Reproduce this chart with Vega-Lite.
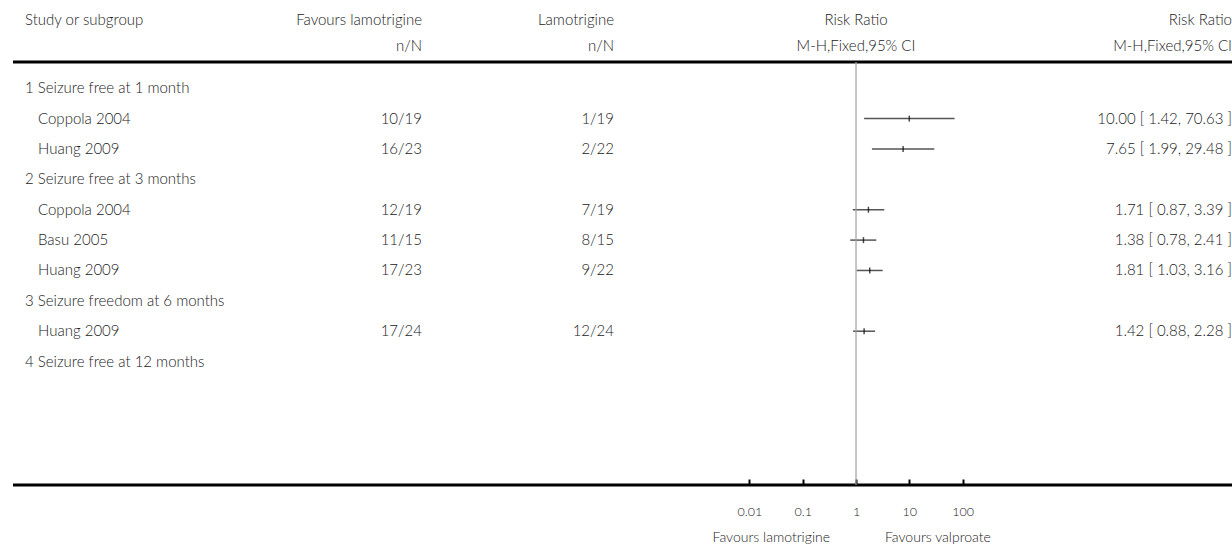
{
  "$schema": "https://vega.github.io/schema/vega-lite/v6.json",
  "padding": {"left": 11, "right": 0, "top": 0, "bottom": 0},
  "spacing": 0,
  "bounds": "flush",
  "config": {
    "view": {"stroke": null},
    "text": {"font": "Lato", "fontSize": 15, "fontWeight": 300, "color": "#222", "baseline": "middle"}
  },
  "datasets": {
    "rows": [
      {"row": 0, "kind": "group", "label": "1 Seizure free at 1 month"},
      {"row": 1, "kind": "study", "label": "Coppola 2004", "exp": "10/19", "ctl": "1/19", "rr": 10.0, "lo": 1.42, "hi": 70.63, "ci": "10.00 [ 1.42, 70.63 ]"},
      {"row": 2, "kind": "study", "label": "Huang 2009", "exp": "16/23", "ctl": "2/22", "rr": 7.65, "lo": 1.99, "hi": 29.48, "ci": "7.65 [ 1.99, 29.48 ]"},
      {"row": 3, "kind": "group", "label": "2 Seizure free at 3 months"},
      {"row": 4, "kind": "study", "label": "Coppola 2004", "exp": "12/19", "ctl": "7/19", "rr": 1.71, "lo": 0.87, "hi": 3.39, "ci": "1.71 [ 0.87, 3.39 ]"},
      {"row": 5, "kind": "study", "label": "Basu 2005", "exp": "11/15", "ctl": "8/15", "rr": 1.38, "lo": 0.78, "hi": 2.41, "ci": "1.38 [ 0.78, 2.41 ]"},
      {"row": 6, "kind": "study", "label": "Huang 2009", "exp": "17/23", "ctl": "9/22", "rr": 1.81, "lo": 1.03, "hi": 3.16, "ci": "1.81 [ 1.03, 3.16 ]"},
      {"row": 7, "kind": "group", "label": "3 Seizure freedom at 6 months"},
      {"row": 8, "kind": "study", "label": "Huang 2009", "exp": "17/24", "ctl": "12/24", "rr": 1.42, "lo": 0.88, "hi": 2.28, "ci": "1.42 [ 0.88, 2.28 ]"},
      {"row": 9, "kind": "group", "label": "4 Seizure free at 12 months"}
    ]
  },
  "hconcat": [
    {
      "width": 289, "height": 485,
      "layer": [
        {"data": {"values": [{}]}, "mark": {"type": "rule", "color": "#000", "strokeWidth": 3},
         "encoding": {"y": {"datum": -0.864, "type": "quantitative", "scale": {"domain": [-2.906, 13.064], "reverse": true, "nice": false, "zero": false}, "axis": null}}},
        {"data": {"values": [{}]}, "mark": {"type": "rule", "color": "#000", "strokeWidth": 3},
         "encoding": {"y": {"datum": 13.064, "type": "quantitative", "axis": null}}},
        {"data": {"values": [{}]}, "mark": {"type": "text", "align": "left", "dx": 12},
         "encoding": {"x": {"value": 0}, "y": {"datum": -2.247, "type": "quantitative", "axis": null}, "text": {"value": "Study or subgroup"}}},
        {"data": {"name": "rows"}, "transform": [{"filter": "datum.kind === 'group'"}],
         "mark": {"type": "text", "align": "left", "dx": 12},
         "encoding": {"x": {"value": 0}, "y": {"field": "row", "type": "quantitative", "axis": null}, "text": {"field": "label"}}},
        {"data": {"name": "rows"}, "transform": [{"filter": "datum.kind === 'study'"}],
         "mark": {"type": "text", "align": "left", "dx": 25},
         "encoding": {"x": {"value": 0}, "y": {"field": "row", "type": "quantitative", "axis": null}, "text": {"field": "label"}}}
      ]
    },
    {
      "width": 120, "height": 485,
      "layer": [
        {"data": {"values": [{}]}, "mark": {"type": "rule", "color": "#000", "strokeWidth": 3},
         "encoding": {"y": {"datum": -0.864, "type": "quantitative", "scale": {"domain": [-2.906, 13.064], "reverse": true, "nice": false, "zero": false}, "axis": null}}},
        {"data": {"values": [{}]}, "mark": {"type": "rule", "color": "#000", "strokeWidth": 3},
         "encoding": {"y": {"datum": 13.064, "type": "quantitative", "axis": null}}},
        {"data": {"values": [{}]}, "mark": {"type": "text", "align": "right"},
         "encoding": {"x": {"value": "width"}, "y": {"datum": -2.247, "type": "quantitative", "axis": null}, "text": {"value": "Favours lamotrigine"}}},
        {"data": {"values": [{}]}, "mark": {"type": "text", "align": "right"},
         "encoding": {"x": {"value": "width"}, "y": {"datum": -1.391, "type": "quantitative", "axis": null}, "text": {"value": "n/N"}}},
        {"data": {"name": "rows"}, "transform": [{"filter": "datum.kind === 'study'"}],
         "mark": {"type": "text", "align": "right"},
         "encoding": {"x": {"value": "width"}, "y": {"field": "row", "type": "quantitative", "axis": null}, "text": {"field": "exp"}}}
      ]
    },
    {
      "width": 192, "height": 485,
      "layer": [
        {"data": {"values": [{}]}, "mark": {"type": "rule", "color": "#000", "strokeWidth": 3},
         "encoding": {"y": {"datum": -0.864, "type": "quantitative", "scale": {"domain": [-2.906, 13.064], "reverse": true, "nice": false, "zero": false}, "axis": null}}},
        {"data": {"values": [{}]}, "mark": {"type": "rule", "color": "#000", "strokeWidth": 3},
         "encoding": {"y": {"datum": 13.064, "type": "quantitative", "axis": null}}},
        {"data": {"values": [{}]}, "mark": {"type": "text", "align": "right"},
         "encoding": {"x": {"value": "width"}, "y": {"datum": -2.247, "type": "quantitative", "axis": null}, "text": {"value": "Lamotrigine"}}},
        {"data": {"values": [{}]}, "mark": {"type": "text", "align": "right"},
         "encoding": {"x": {"value": "width"}, "y": {"datum": -1.391, "type": "quantitative", "axis": null}, "text": {"value": "n/N"}}},
        {"data": {"name": "rows"}, "transform": [{"filter": "datum.kind === 'study'"}],
         "mark": {"type": "text", "align": "right"},
         "encoding": {"x": {"value": "width"}, "y": {"field": "row", "type": "quantitative", "axis": null}, "text": {"field": "ctl"}}}
      ]
    },
    {
      "width": 484, "height": 485,
      "layer": [
        {"data": {"name": "rows"}, "transform": [{"filter": "datum.kind === 'study'"}],
         "mark": {"type": "rule", "color": "#555", "strokeWidth": 1.5},
         "encoding": {
           "x": {"field": "lo", "type": "quantitative",
                 "scale": {"type": "log", "domain": [0.0000288, 34700], "nice": false},
                 "axis": {"values": [0.01, 0.1, 1, 10, 100], "format": "~g", "grid": false, "domain": false,
                          "ticks": true, "tickColor": "#000", "tickWidth": 2, "tickSize": -6,
                          "labelPadding": 26, "labelFont": "Lato", "labelFontSize": 12.5, "labelFontWeight": 300, "labelColor": "#222", "title": null}},
           "x2": {"field": "hi"},
           "y": {"field": "row", "type": "quantitative", "scale": {"domain": [-2.906, 13.064], "reverse": true, "nice": false, "zero": false}, "axis": null}}},
        {"data": {"values": [{}]}, "mark": {"type": "rule", "color": "#000", "strokeWidth": 3},
         "encoding": {"y": {"datum": -0.864, "type": "quantitative", "axis": null}}},
        {"data": {"values": [{}]}, "mark": {"type": "rule", "color": "#000", "strokeWidth": 3},
         "encoding": {"y": {"datum": 13.064, "type": "quantitative", "axis": null}}},
        {"data": {"values": [{}]}, "mark": {"type": "rule", "color": "#a0a0a0", "strokeWidth": 1.2},
         "encoding": {"x": {"datum": 1, "type": "quantitative"}, "y": {"datum": -0.864, "type": "quantitative", "axis": null}, "y2": {"datum": 13.064}}},
        {"data": {"name": "rows"}, "transform": [{"filter": "datum.kind === 'study'"}],
         "mark": {"type": "tick", "color": "#000", "orient": "vertical", "thickness": 1.5, "size": 6},
         "encoding": {"x": {"field": "rr", "type": "quantitative"}, "y": {"field": "row", "type": "quantitative", "axis": null}}},
        {"data": {"values": [{}]}, "mark": {"type": "text", "align": "center"},
         "encoding": {"x": {"datum": 1, "type": "quantitative"}, "y": {"datum": -2.247, "type": "quantitative", "axis": null}, "text": {"value": "Risk Ratio"}}},
        {"data": {"values": [{}]}, "mark": {"type": "text", "align": "center"},
         "encoding": {"x": {"datum": 1, "type": "quantitative"}, "y": {"datum": -1.391, "type": "quantitative", "axis": null}, "text": {"value": "M-H,Fixed,95% CI"}}},
        {"data": {"values": [{}]}, "mark": {"type": "text", "align": "right", "dx": -26, "fontSize": 14},
         "encoding": {"x": {"datum": 1, "type": "quantitative"}, "y": {"datum": 14.809, "type": "quantitative", "axis": null}, "text": {"value": "Favours lamotrigine"}}},
        {"data": {"values": [{}]}, "mark": {"type": "text", "align": "left", "dx": 29, "fontSize": 14},
         "encoding": {"x": {"datum": 1, "type": "quantitative"}, "y": {"datum": 14.809, "type": "quantitative", "axis": null}, "text": {"value": "Favours valproate"}}}
      ]
    },
    {
      "width": 136, "height": 485,
      "layer": [
        {"data": {"values": [{}]}, "mark": {"type": "rule", "color": "#000", "strokeWidth": 3},
         "encoding": {"y": {"datum": -0.864, "type": "quantitative", "scale": {"domain": [-2.906, 13.064], "reverse": true, "nice": false, "zero": false}, "axis": null}}},
        {"data": {"values": [{}]}, "mark": {"type": "rule", "color": "#000", "strokeWidth": 3},
         "encoding": {"y": {"datum": 13.064, "type": "quantitative", "axis": null}}},
        {"data": {"values": [{}]}, "mark": {"type": "text", "align": "right", "dx": -2},
         "encoding": {"x": {"value": "width"}, "y": {"datum": -2.247, "type": "quantitative", "axis": null}, "text": {"value": "Risk Ratio"}}},
        {"data": {"values": [{}]}, "mark": {"type": "text", "align": "right", "dx": -2},
         "encoding": {"x": {"value": "width"}, "y": {"datum": -1.391, "type": "quantitative", "axis": null}, "text": {"value": "M-H,Fixed,95% CI"}}},
        {"data": {"name": "rows"}, "transform": [{"filter": "datum.kind === 'study'"}],
         "mark": {"type": "text", "align": "right", "dx": -2},
         "encoding": {"x": {"value": "width"}, "y": {"field": "row", "type": "quantitative", "axis": null}, "text": {"field": "ci"}}}
      ]
    }
  ]
}
